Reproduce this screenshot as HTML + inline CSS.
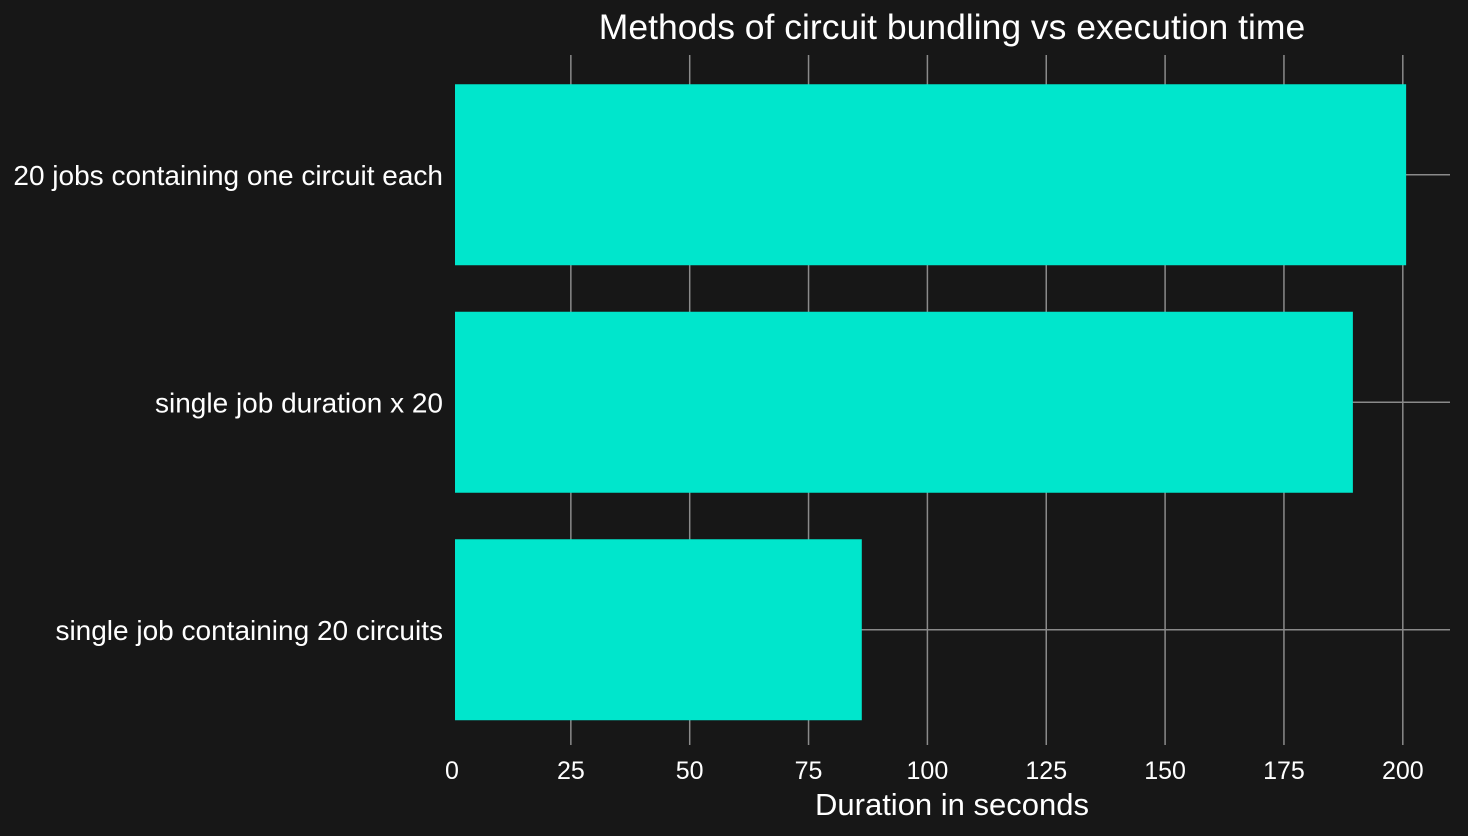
<!DOCTYPE html>
<html><head><meta charset="utf-8"><style>
html,body{margin:0;padding:0;background:#171717;}
svg{display:block;font-family:"Liberation Sans",Arial,sans-serif;}
</style></head><body>
<svg id="chart" width="1468" height="836" viewBox="0 0 1468 836">
<rect width="1468" height="836" fill="#171717"/>
<text x="952" y="39" font-size="35.5" fill="#ffffff" text-anchor="middle">Methods of circuit bundling vs execution time</text>
<text x="952" y="815" font-size="31" fill="#ffffff" text-anchor="middle">Duration in seconds</text>
<g id="grid"></g><g id="bars"></g><g id="labels"></g>
</svg>
<script>
const categories = ["20 jobs containing one circuit each", "single job duration x 20", "single job containing 20 circuits"];
const durations = [200.7, 189.5, 86.2];
const xTicks = [0, 25, 50, 75, 100, 125, 150, 175, 200];

const NS = "http://www.w3.org/2000/svg";
const x0 = 452, pxPerUnit = 4.754;
const xScale = v => x0 + v * pxPerUnit;
const yTop = 61, band = 227.5, barH = 181;
const yCenter = i => yTop + band * (i + 0.5);
const grid = document.getElementById('grid');
const barsG = document.getElementById('bars');
const labels = document.getElementById('labels');
function mk(tag, attrs, parent){const e=document.createElementNS(NS,tag);for(const k in attrs)e.setAttribute(k,attrs[k]);parent.appendChild(e);return e;}

xTicks.forEach(t=>{
  if (t !== 0) {
    const l = mk('line',{x1:xScale(t),x2:xScale(t),y1:55,y2:745,stroke:'#8a8a8a','stroke-width':1.5},grid);
    
    
  }
  const tx = mk('text',{x:xScale(t),y:779,'font-size':25,fill:'#ffffff','text-anchor':'middle'},labels);
  tx.textContent = t;
  
  
});
categories.forEach((c,i)=>{
  const cy = yCenter(i);
  const gl = mk('line',{x1:x0+3,x2:1450,y1:cy,y2:cy,stroke:'#8a8a8a','stroke-width':1.5},grid);
  
  
  const r = mk('rect',{x:xScale(0)+3,y:cy-barH/2,width:xScale(durations[i])-xScale(0)-3,height:barH,fill:'#00e6cc'},barsG);
  
  
  const t = mk('text',{x:443,y:cy+10,'font-size':28,fill:'#ffffff','text-anchor':'end'},labels);
  t.textContent = c;
  
  
});
</script>
</body></html>
